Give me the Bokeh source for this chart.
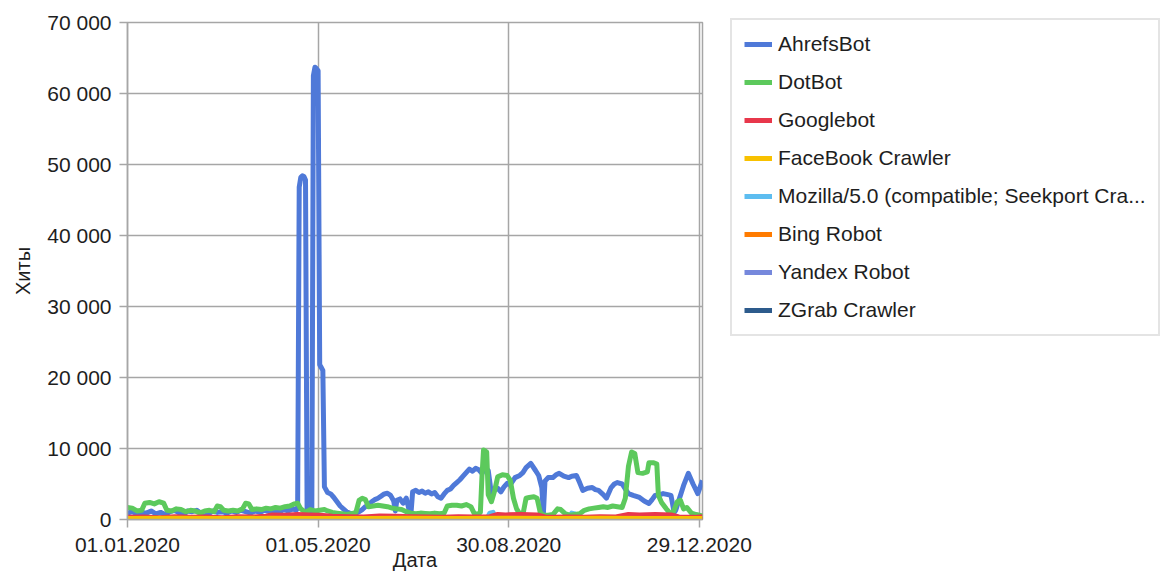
import pandas as pd
from bokeh.plotting import figure
from bokeh.models import (FixedTicker, DatetimeTickFormatter, Legend, LegendItem, Range1d)
from bokeh.embed import file_html
from bokeh.resources import INLINE

START = "2020-01-01"
END = "2020-12-31"

x_tick_labels = ["01.01.2020", "01.05.2020", "30.08.2020", "29.12.2020"]
y_ticks = [0, 10000, 20000, 30000, 40000, 50000, 60000, 70000]
y_tick_labels = ["0", "10 000", "20 000", "30 000", "40 000", "50 000", "60 000", "70 000"]

series_names = ["AhrefsBot", "DotBot", "Googlebot", "FaceBook Crawler",
                "Mozilla/5.0 (compatible; Seekport Cra...", "Bing Robot",
                "Yandex Robot", "ZGrab Crawler"]
series_colors = ["#4f79d8", "#5cc95c", "#e8374b", "#f8c100",
                 "#5dbdf0", "#ff7b00", "#7688dc", "#2d5b8c"]

# day offsets from 01.01.2020 and hits
ahrefs_day = [0, 3, 6, 9, 12, 15, 18, 21, 24, 27,
              30, 33, 35, 38, 41, 44, 47, 48, 51, 54,
              57, 60, 63, 66, 69, 72, 75, 78, 81, 84,
              87, 90, 93, 96, 99, 102, 105, 107, 108, 109,
              110, 111, 112, 113, 114, 115, 116, 117, 118, 119,
              120, 121, 122, 123, 124, 125, 127, 129, 131, 133,
              135, 137, 139, 141, 143, 145, 147, 149, 151, 153,
              155, 157, 159, 161, 163, 165, 167, 169, 170, 171,
              173, 175, 177, 179, 180, 181, 183, 185, 187, 189,
              191, 193, 195, 197, 199, 201, 203, 205, 207, 209,
              211, 213, 215, 217, 219, 221, 223, 225, 227, 229,
              231, 233, 235, 237, 239, 241, 243, 246, 249, 251,
              253, 256, 259, 261, 263, 264, 265, 267, 270, 272,
              274, 277, 280, 282, 285, 287, 289, 292, 295, 297,
              299, 302, 304, 307, 309, 311, 314, 316, 318, 321,
              325, 328, 331, 333, 335, 338, 340, 343, 345, 347,
              348, 350, 353, 356, 359, 362, 365]
ahrefs_hits = [900, 1100, 800, 1000, 900, 1200, 800, 1000, 700, 1100,
               1300, 900, 500, 1200, 1100, 1300, 800, 400, 700, 1200,
               1000, 1100, 900, 1200, 1000, 1300, 1100, 900, 1200, 1000,
               1300, 1100, 1200, 1000, 1400, 1200, 1500, 1300, 1600, 46800,
               48200, 48400, 48300, 47800, 1200, 800, 1100, 900, 62500, 63700,
               63500, 63200, 21800, 21400, 21000, 4600, 3800, 3600, 3100, 2500,
               1900, 1500, 1100, 900, 800, 900, 1100, 1400, 1800, 2100,
               2500, 2800, 3000, 3300, 3600, 3700, 3400, 2600, 1200, 2700,
               2900, 2300, 3000, 1100, 1000, 3900, 4100, 3800, 4000, 3700,
               3900, 3600, 3800, 3200, 3000, 3600, 4100, 4300, 4800, 5200,
               5600, 6100, 6600, 7100, 6800, 7200, 7000, 6500, 7200, 6900,
               3600, 4300, 4400, 3900, 4600, 5100, 4900, 5900, 6200, 6600,
               7300, 7900, 6900, 6200, 4500, 850, 5400, 5900, 5900, 6300,
               6500, 6100, 5900, 6100, 6200, 5200, 4100, 4400, 4500, 4200,
               4100, 3500, 3000, 4500, 5000, 5200, 5000, 4300, 3650, 3400,
               3100, 2600, 2250, 2800, 3400, 3500, 3650, 3500, 3400, 1000,
               1300, 2700, 4800, 6500, 5000, 3650, 5500]

dot_day = [0, 3, 6, 9, 11, 14, 17, 20, 23, 25,
           28, 31, 34, 37, 40, 43, 46, 49, 52, 55,
           57, 59, 61, 64, 67, 70, 73, 75, 77, 79,
           82, 85, 88, 91, 94, 97, 100, 103, 106, 108,
           110, 113, 116, 119, 122, 125, 127, 130, 133, 136,
           139, 142, 145, 147, 149, 151, 153, 156, 159, 162,
           165, 168, 171, 174, 177, 180, 183, 186, 189, 192,
           195, 198, 201, 203, 206, 209, 212, 215, 218, 220,
           222, 224, 225, 226, 228, 229, 231, 233, 235, 238,
           241, 243, 245, 247, 249, 251, 253, 255, 258, 260,
           262, 264, 267, 270, 273, 275, 278, 281, 284, 287,
           290, 293, 296, 299, 302, 305, 308, 311, 314, 316,
           318, 320, 322, 324, 327, 330, 331, 334, 336, 337,
           339, 342, 344, 346, 349, 351, 353, 355, 358, 361,
           363, 365]
dot_hits = [1700, 1600, 1200, 1300, 2300, 2400, 2200, 2500, 2300, 1300,
            1200, 1500, 1400, 1100, 1300, 1200, 900, 1200, 1300, 1100,
            1900, 1800, 1300, 1200, 1300, 1200, 1500, 2300, 2200, 1400,
            1500, 1400, 1600, 1500, 1700, 1600, 1800, 1900, 2200, 2300,
            1500, 1000, 1400, 1200, 1300, 1400, 1200, 1000, 900, 800,
            700, 800, 1000, 2700, 3000, 2800, 1800, 1900, 2000, 1900,
            1800, 1600, 1500, 1400, 1100, 900, 800, 900, 850, 800,
            900, 800, 900, 1900, 2000, 2000, 1900, 2100, 1800, 900,
            700, 1000, 6000, 9800, 9500, 3500, 2500, 4000, 6000, 6300,
            6200, 5500, 3000, 1500, 800, 700, 3000, 3100, 3200, 3000,
            1000, 600, 600, 700, 1500, 1400, 800, 600, 700, 800,
            1300, 1500, 1600, 1700, 1800, 1700, 1900, 1800, 1700, 3000,
            7500, 9500, 9300, 6600, 6500, 6700, 8000, 8000, 7800, 3400,
            2400, 1500, 1000, 800, 2500, 2700, 1500, 1700, 900, 700,
            600, 500]

google_day = [0, 10, 20, 30, 40, 50, 60, 70, 80, 88,
              92, 100, 108, 115, 122, 130, 140, 150, 160, 170,
              180, 190, 200, 210, 220, 230, 235, 240, 250, 260,
              265, 270, 280, 290, 300, 310, 318, 325, 335, 345,
              350, 360, 365]
google_hits = [300, 350, 250, 400, 300, 350, 250, 400, 350, 450,
               650, 600, 700, 650, 600, 450, 400, 350, 500, 450,
               400, 350, 300, 400, 350, 400, 700, 650, 700, 650,
               350, 300, 350, 300, 400, 350, 700, 650, 700, 650,
               350, 300, 400]

facebook_day = [0, 30, 60, 90, 120, 150, 180, 210, 240, 270, 300, 330, 365]
facebook_hits = [140, 160, 130, 170, 150, 130, 160, 140, 170, 150, 160, 140, 150]

seekport_day = [0, 100, 200, 228, 230, 232, 234, 280, 282, 284, 286, 341, 343, 345, 347, 365]
seekport_hits = [20, 20, 20, 20, 900, 1000, 20, 20, 900, 800, 20, 20, 700, 600, 20, 20]

bing_day = [0, 90, 180, 270, 365]
bing_hits = [30, 50, 40, 50, 30]
yandex_day = [0, 90, 180, 270, 365]
yandex_hits = [20, 30, 20, 30, 20]
zgrab_day = [0, 180, 365]
zgrab_hits = [5, 5, 5]

series_days = [ahrefs_day, dot_day, google_day, facebook_day,
               seekport_day, bing_day, yandex_day, zgrab_day]
series_hits = [ahrefs_hits, dot_hits, google_hits, facebook_hits,
               seekport_hits, bing_hits, yandex_hits, zgrab_hits]
for d, h in zip(series_days, series_hits):
    assert len(d) == len(h)

start = pd.Timestamp(START)
end = pd.Timestamp(END)

FONT = "Liberation Sans"
TXT = "#1e1e1e"
GRID = "#a6a6a6"

p = figure(frame_width=575, frame_height=497, x_axis_type="datetime",
           x_range=Range1d(start, end), y_range=Range1d(0, 70000),
           output_backend="svg", toolbar_location=None,
           min_border_left=127, min_border_right=0,
           min_border_top=22, min_border_bottom=60)

p.background_fill_color = "white"
p.border_fill_color = "white"
p.outline_line_color = GRID
p.outline_line_width = 1.5

x_ticks = [pd.to_datetime(s, format="%d.%m.%Y") for s in x_tick_labels]
x_tick_ms = [(t - pd.Timestamp("1970-01-01")).total_seconds() * 1000 for t in x_ticks]
xt = FixedTicker(ticks=x_tick_ms)
yt = FixedTicker(ticks=y_ticks)
p.xaxis.ticker = xt
p.xgrid.ticker = xt
p.yaxis.ticker = yt
p.ygrid.ticker = yt
fmt = "%d.%m.%Y"
p.xaxis.formatter = DatetimeTickFormatter(
    milliseconds=fmt, seconds=fmt, minsec=fmt, minutes=fmt, hourmin=fmt,
    hours=fmt, days=fmt, months=fmt, years=fmt)
p.yaxis.major_label_overrides = dict(zip(y_ticks, y_tick_labels))

for g in (p.xgrid, p.ygrid):
    g.grid_line_color = GRID
    g.grid_line_width = 1.5

for ax in (p.xaxis, p.yaxis):
    ax.axis_line_color = GRID
    ax.axis_line_width = 1.5
    ax.major_tick_line_color = GRID
    ax.major_tick_line_width = 1.5
    ax.major_tick_out = 8
    ax.major_tick_in = 0
    ax.minor_tick_line_color = None
    ax.major_label_text_font = FONT
    ax.major_label_text_font_size = "21px"
    ax.major_label_text_color = TXT
    ax.axis_label_text_font = FONT
    ax.axis_label_text_font_size = "20px"
    ax.axis_label_text_font_style = "normal"
    ax.axis_label_text_color = TXT

p.xaxis.major_label_standoff = 10
p.yaxis.major_label_standoff = 8
p.xaxis.axis_label = "Дата"
p.xaxis.axis_label_standoff = -6
p.yaxis.axis_label = "Хиты"
p.yaxis.axis_label_standoff = 10

renderers = {}
draw_order = [7, 6, 5, 4, 0, 1, 2, 3]
for i in draw_order:
    xs = [start + pd.Timedelta(days=d) for d in series_days[i]]
    r = p.line(xs, series_hits[i], line_color=series_colors[i], line_width=5,
               line_join="round")
    renderers[i] = r

items = [LegendItem(label=series_names[i], renderers=[renderers[i]]) for i in range(8)]
legend = Legend(items=items, location=(28, 183))
legend.margin = 0
legend.label_text_font = FONT
legend.label_text_font_size = "21px"
legend.label_text_color = TXT
legend.glyph_width = 28
legend.glyph_height = 24
legend.label_height = 24
legend.spacing = 14
legend.padding = 12
legend.label_standoff = 6
legend.border_line_color = "#c9c9c9"
legend.border_line_width = 2
legend.background_fill_color = "white"
legend.background_fill_alpha = 1
p.add_layout(legend, "right")

open("out.html", "w").write(file_html(p, INLINE))
